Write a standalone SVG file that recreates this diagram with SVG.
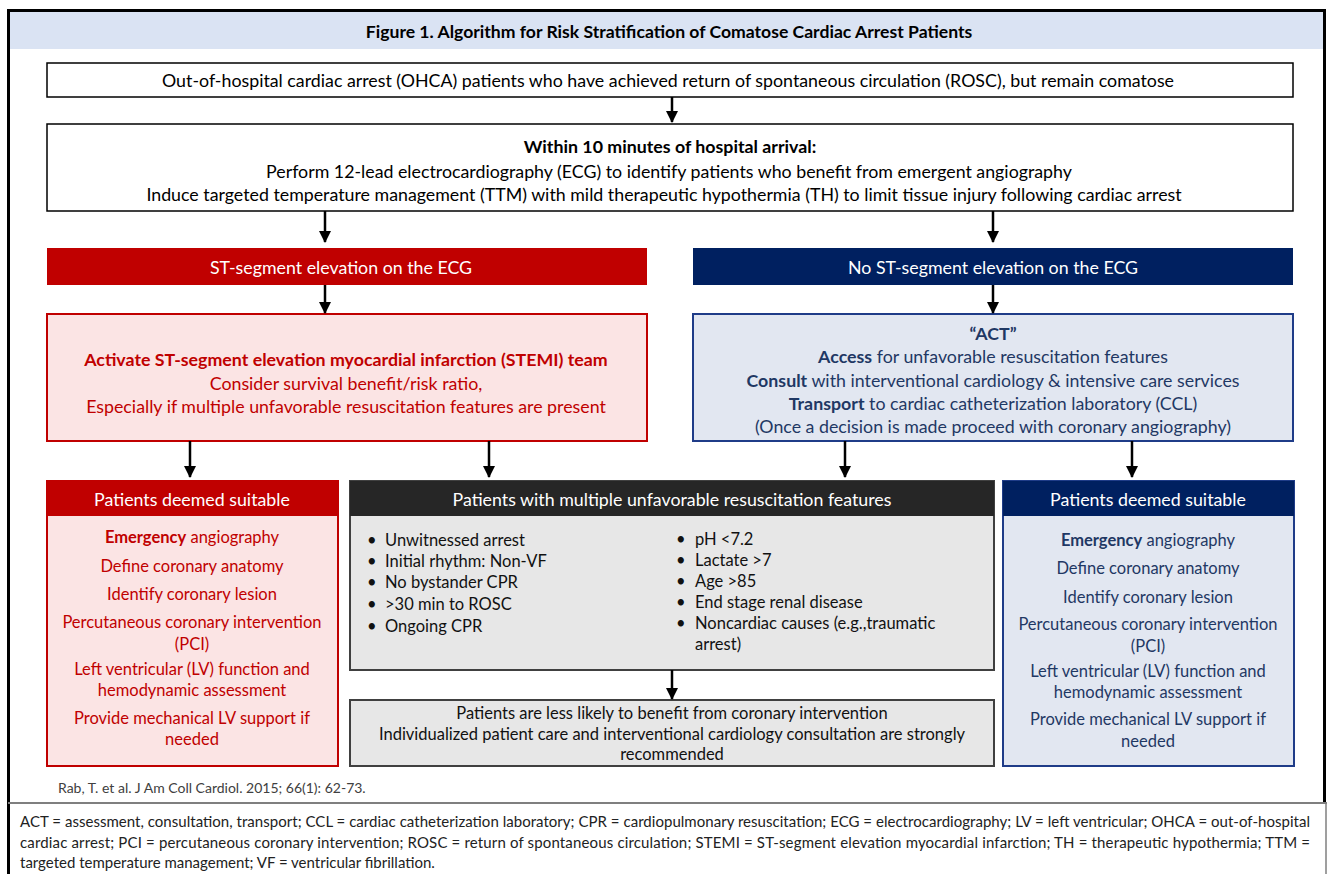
<svg xmlns="http://www.w3.org/2000/svg" width="1330" height="874" viewBox="0 0 1330 874">
<defs>
<marker id="ah" markerUnits="userSpaceOnUse" markerWidth="12" markerHeight="12" refX="11" refY="6" orient="auto">
<path d="M0,0 L12,6 L0,12 Z" fill="#000"/>
</marker>
<style>
text{font-family:Lato,"Open Sans","Liberation Sans",sans-serif;dominant-baseline:central}
.c{text-anchor:middle}
.b{font-weight:bold}
.m{font-size:17.8px;fill:#000}
.w{fill:#fff;font-size:17.8px}
.r{fill:#c00000;font-size:17.8px}
.n{fill:#1f3864;font-size:17.8px}
.s{font-size:16.5px}
.g{fill:#111;font-size:16.5px}
.conn line{stroke:#000;stroke-width:2.5;marker-end:url(#ah)}
</style>
</defs>
<rect width="1330" height="874" fill="#fff"/>
<!-- frame -->
<rect x="9" y="11" width="1315" height="38" fill="#dae3f3"/>
<path d="M8.5,880 V10.5 H1324.5 V803" fill="none" stroke="#000" stroke-width="3"/>
<line x1="8" y1="803" x2="1327" y2="803" stroke="#7f7f7f" stroke-width="2"/>
<line x1="1326" y1="803" x2="1326" y2="880" stroke="#7f7f7f" stroke-width="1.5"/>
<text x="669" y="31" class="c b" style="font-size:17.6px;fill:#000">Figure 1. Algorithm for Risk Stratification of Comatose Cardiac Arrest Patients</text>

<g id="n1">
<rect x="47" y="63" width="1246" height="34" fill="#fff" stroke="#000" stroke-width="1.5"/>
<text x="668" y="80" class="c m">Out-of-hospital cardiac arrest (OHCA) patients who have achieved return of spontaneous circulation (ROSC), but remain comatose</text>
</g>
<g id="n2">
<rect x="47" y="124" width="1246" height="87" fill="#fff" stroke="#000" stroke-width="1.5"/>
<text x="670" y="146" class="c m b">Within 10 minutes of hospital arrival:</text>
<text x="669" y="171" class="c m">Perform 12-lead electrocardiography (ECG) to identify patients who benefit from emergent angiography</text>
<text x="664" y="194" class="c m">Induce targeted temperature management (TTM) with mild therapeutic hypothermia (TH) to limit tissue injury following cardiac arrest</text>
</g>
<g id="n3">
<rect x="47" y="248" width="600" height="37" fill="#c00000"/>
<text x="341" y="267" class="c w">ST-segment elevation on the ECG</text>
</g>
<g id="n4">
<rect x="693" y="248" width="600" height="37" fill="#002060"/>
<text x="993" y="267" class="c w">No ST-segment elevation on the ECG</text>
</g>
<g id="n5">
<rect x="47" y="314" width="600" height="127" fill="#fbe4e4" stroke="#c00000" stroke-width="2"/>
<text x="346" y="359" class="c r b">Activate ST-segment elevation myocardial infarction (STEMI) team</text>
<text x="346" y="383" class="c r">Consider survival benefit/risk ratio,</text>
<text x="346" y="406" class="c r">Especially if multiple unfavorable resuscitation features are present</text>
</g>
<g id="n6">
<rect x="693" y="314" width="600" height="127" fill="#e2e7f1" stroke="#1f3c88" stroke-width="2"/>
<text x="993" y="333" class="c n b">“ACT”</text>
<text x="993" y="356" class="c n"><tspan class="b">Access</tspan> for unfavorable resuscitation features</text>
<text x="993" y="380" class="c n"><tspan class="b">Consult</tspan> with interventional cardiology &amp; intensive care services</text>
<text x="993" y="403" class="c n"><tspan class="b">Transport</tspan> to cardiac catheterization laboratory (CCL)</text>
<text x="993" y="426" class="c n">(Once a decision is made proceed with coronary angiography)</text>
</g>
<g id="n7">
<rect x="47" y="481" width="291" height="285" fill="#fbe4e4" stroke="#c00000" stroke-width="2"/>
<rect x="47" y="481" width="291" height="35" fill="#c00000"/>
<text x="192" y="499" class="c w">Patients deemed suitable</text>
<text x="192" y="537" class="c r s"><tspan class="b">Emergency</tspan> angiography</text>
<text x="192" y="566" class="c r s">Define coronary anatomy</text>
<text x="192" y="594" class="c r s">Identify coronary lesion</text>
<text x="192" y="622" class="c r s">Percutaneous coronary intervention</text>
<text x="192" y="644" class="c r s">(PCI)</text>
<text x="192" y="669" class="c r s">Left ventricular (LV) function and</text>
<text x="192" y="690" class="c r s">hemodynamic assessment</text>
<text x="192" y="718" class="c r s">Provide mechanical LV support if</text>
<text x="192" y="739" class="c r s">needed</text>
</g>
<g id="n8">
<rect x="350" y="481" width="644" height="189" fill="#e7e7e7" stroke="#404040" stroke-width="2"/>
<rect x="350" y="481" width="644" height="35" fill="#262626"/>
<text x="672" y="499" class="c w">Patients with multiple unfavorable resuscitation features</text>
<g class="g">
<text x="367" y="540">•</text><text x="385" y="540">Unwitnessed arrest</text>
<text x="367" y="561">•</text><text x="385" y="561">Initial rhythm: Non-VF</text>
<text x="367" y="582">•</text><text x="385" y="582">No bystander CPR</text>
<text x="367" y="604">•</text><text x="385" y="604">&gt;30 min to ROSC</text>
<text x="367" y="626">•</text><text x="385" y="626">Ongoing CPR</text>
<text x="676" y="539">•</text><text x="695" y="539">pH &lt;7.2</text>
<text x="676" y="560">•</text><text x="695" y="560">Lactate &gt;7</text>
<text x="676" y="581">•</text><text x="695" y="581">Age &gt;85</text>
<text x="676" y="602">•</text><text x="695" y="602">End stage renal disease</text>
<text x="676" y="623">•</text><text x="695" y="623">Noncardiac causes (e.g.,traumatic</text>
<text x="695" y="644">arrest)</text>
</g>
</g>
<g id="n9">
<rect x="350" y="700" width="644" height="66" fill="#e7e7e7" stroke="#404040" stroke-width="2"/>
<text x="672" y="713" class="c g">Patients are less likely to benefit from coronary intervention</text>
<text x="672" y="734" class="c g">Individualized patient care and interventional cardiology consultation are strongly</text>
<text x="672" y="754" class="c g">recommended</text>
</g>
<g id="n10">
<rect x="1003" y="481" width="291" height="285" fill="#e2e7f1" stroke="#1f3c88" stroke-width="2"/>
<rect x="1003" y="481" width="291" height="35" fill="#002060"/>
<text x="1148" y="499" class="c w">Patients deemed suitable</text>
<text x="1148" y="540" class="c n s"><tspan class="b">Emergency</tspan> angiography</text>
<text x="1148" y="568" class="c n s">Define coronary anatomy</text>
<text x="1148" y="597" class="c n s">Identify coronary lesion</text>
<text x="1148" y="624" class="c n s">Percutaneous coronary intervention</text>
<text x="1148" y="646" class="c n s">(PCI)</text>
<text x="1148" y="671" class="c n s">Left ventricular (LV) function and</text>
<text x="1148" y="692" class="c n s">hemodynamic assessment</text>
<text x="1148" y="719" class="c n s">Provide mechanical LV support if</text>
<text x="1148" y="741" class="c n s">needed</text>
</g>
<g id="connectors" class="conn">
<line x1="672" y1="97" x2="672" y2="122"/>
<line x1="325" y1="211" x2="325" y2="242"/>
<line x1="993" y1="211" x2="993" y2="242"/>
<line x1="325" y1="285" x2="325" y2="313"/>
<line x1="993" y1="285" x2="993" y2="313"/>
<line x1="190" y1="441" x2="190" y2="477"/>
<line x1="489" y1="441" x2="489" y2="477"/>
<line x1="845" y1="441" x2="845" y2="477"/>
<line x1="1132" y1="441" x2="1132" y2="477"/>
<line x1="672" y1="670" x2="672" y2="699"/>
</g>
<text x="58" y="787" style="font-size:14px;fill:#404040">Rab, T. et al. J Am Coll Cardiol. 2015; 66(1): 62-73.</text>
<g style="font-size:15px;fill:#222">
<text x="20" y="821" textLength="1290" lengthAdjust="spacing">ACT = assessment, consultation, transport; CCL = cardiac catheterization laboratory; CPR = cardiopulmonary resuscitation; ECG = electrocardiography; LV = left ventricular; OHCA = out-of-hospital</text>
<text x="20" y="842" textLength="1290" lengthAdjust="spacing">cardiac arrest; PCI = percutaneous coronary intervention; ROSC = return of spontaneous circulation; STEMI = ST-segment elevation myocardial infarction; TH = therapeutic hypothermia; TTM =</text>
<text x="20" y="862">targeted temperature management; VF = ventricular fibrillation.</text>
</g>
</svg>
